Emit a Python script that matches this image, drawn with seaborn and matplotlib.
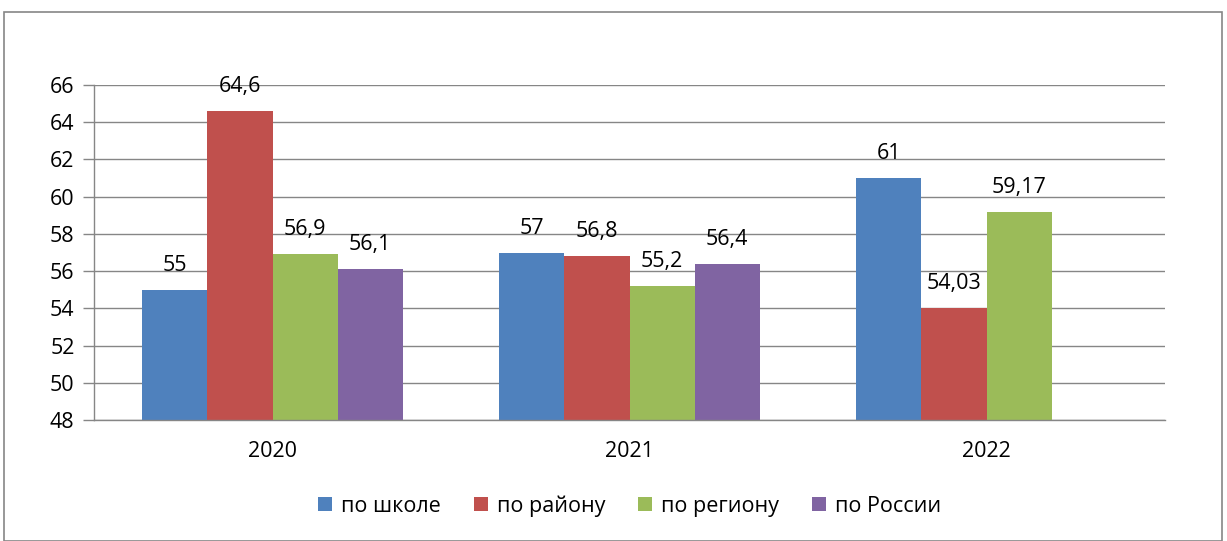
import matplotlib
matplotlib.use("Agg")
import matplotlib.pyplot as plt
import seaborn as sns
import pandas as pd
import numpy as np
from matplotlib.patches import Rectangle

years = ["2020", "2021", "2022"]
series = ["по школе", "по району", "по региону", "по России"]
school = [55, 57, 61]
district = [64.6, 56.8, 54.03]
region = [56.9, 55.2, 59.17]
russia = [56.1, 56.4, np.nan]
label_text = {
    "по школе": ["55", "57", "61"],
    "по району": ["64,6", "56,8", "54,03"],
    "по региону": ["56,9", "55,2", "59,17"],
    "по России": ["56,1", "56,4", None],
}
colors = ["#4F81BD", "#C0504D", "#9BBB59", "#8064A2"]
yticks = [48, 50, 52, 54, 56, 58, 60, 62, 64, 66]

rows = []
for s, vals in zip(series, [school, district, region, russia]):
    for y, v in zip(years, vals):
        rows.append({"year": y, "series": s, "value": v})
df = pd.DataFrame(rows)

sns.set_theme(style="white")
plt.rcParams['font.family'] = ['Open Sans', 'DejaVu Sans']
plt.rcParams['text.color'] = 'black'

FS = 15.5

fig = plt.figure(figsize=(12.27, 5.41), dpi=100)
ax = fig.add_axes([94/1227, 1-420/541, (1165-94)/1227, (420-85)/541])

sns.barplot(data=df, x="year", y="value", hue="series", order=years,
            hue_order=series, palette=colors, width=0.73, dodge=True,
            errorbar=None, saturation=1, ax=ax, legend=True, linewidth=0)

ax.set_ylim(48, 66)
ax.set_xlim(-0.5, 2.5)
ax.set_yticks(yticks)
ax.set_yticklabels([str(t) for t in yticks], fontsize=FS)
ax.set_xlabel("")
ax.set_ylabel("")
ax.tick_params(axis="x", which="major", length=0, labelsize=FS, pad=15,
               labelcolor="black")
ax.set_xticks([-0.5, 0.5, 1.5, 2.5], minor=True)
ax.tick_params(axis="x", which="minor", length=7, color="#868686", width=1)
ax.tick_params(axis="y", length=8, color="#868686", width=1, left=True, pad=6,
               labelcolor="black")
ax.grid(axis="y", color="#868686", linewidth=1)
ax.set_axisbelow(True)
for side in ["top", "right"]:
    ax.spines[side].set_visible(False)
for side in ["left", "bottom"]:
    ax.spines[side].set_color("#868686")
    ax.spines[side].set_linewidth(1)

# data labels
for cont, s in zip(ax.containers, series):
    for bar, txt in zip(cont, label_text[s]):
        if txt is None:
            continue
        h = bar.get_height()
        if np.isnan(h):
            continue
        ax.annotate(txt, (bar.get_x() + bar.get_width()/2, h),
                    xytext=(0, 10), textcoords="offset points",
                    ha="center", va="bottom", fontsize=FS, color="black")

leg = ax.legend(loc="center", bbox_to_anchor=(0.5, (541-506-(541-420))/(420-85)),
                ncol=4, frameon=False, fontsize=FS, handlelength=0.65,
                handleheight=0.65, columnspacing=1.55, handletextpad=0.4)
for t in leg.get_texts():
    t.set_color("black")

fig.patches.append(Rectangle((4/1227, 0), (1222-4)/1227, 1-12/541,
                             transform=fig.transFigure, fill=False,
                             edgecolor="#868686", linewidth=1.2))

fig.savefig("out.png", dpi=100)
